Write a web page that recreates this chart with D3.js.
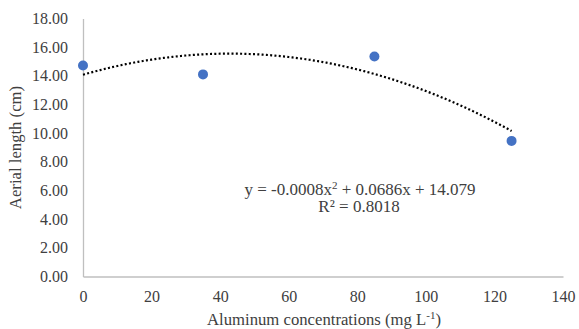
<!DOCTYPE html>
<html>
<head>
<meta charset="utf-8">
<script src="https://cdn.jsdelivr.net/npm/d3@7"></script>
<style>
  html, body { margin: 0; padding: 0; background: #fff; }
  svg { display: block; }
</style>
</head>
<body>
<svg id="chart" width="579" height="329"></svg>
<script>
// Aluminum concentration (mg/L) vs. aerial length (cm)
const concentrations = [0, 35, 85, 125];
const aerialLength = [14.72, 14.10, 15.35, 9.46];

// Quadratic trendline coefficients (y = a x^2 + b x + c)
const trendA = -0.0008;
const trendB = 0.0686;
const trendC = 14.079;
const rSquared = "0.8018";

const xTicks = [0, 20, 40, 60, 80, 100, 120, 140];
const yTicks = [0, 2, 4, 6, 8, 10, 12, 14, 16, 18];

const FONT = "Liberation Serif";
const INK = "#404040";

const svg = d3.select("#chart");

const x = d3.scaleLinear().domain([0, 140]).range([83, 563]);
const y = d3.scaleLinear().domain([0, 18]).range([276.5, 18.5]);

// y axis
const yAxis = svg.append("g")
  .attr("transform", `translate(${x(0)},0)`)
  .call(d3.axisLeft(y).tickValues(yTicks).tickSize(0).tickPadding(15).tickFormat(d3.format(".2f")));
yAxis.attr("font-family", FONT).attr("font-size", 16);
yAxis.select(".domain").attr("stroke", "#bfbfbf").attr("stroke-width", 1.3);
yAxis.selectAll("text").attr("fill", INK);

// x axis
const xAxis = svg.append("g")
  .attr("transform", `translate(0,${y(0)})`)
  .call(d3.axisBottom(x).tickValues(xTicks).tickSize(0).tickPadding(14).tickFormat(d3.format("d")));
xAxis.attr("font-family", FONT).attr("font-size", 16);
xAxis.select(".domain").attr("stroke", "#bfbfbf").attr("stroke-width", 1.3);
xAxis.selectAll("text").attr("fill", INK);

// trendline over the data range
const xs = d3.range(0, 125.01, 0.5);
const line = d3.line().x(d => x(d)).y(d => y(trendA * d * d + trendB * d + trendC));
svg.append("path")
  .datum(xs)
  .attr("d", line)
  .attr("fill", "none")
  .attr("stroke", "#000")
  .attr("stroke-width", 2.2)
  .attr("stroke-dasharray", "2 2.3");

// observed points
svg.selectAll("circle.pt")
  .data(concentrations)
  .join("circle")
  .attr("class", "pt")
  .attr("cx", (d) => x(d))
  .attr("cy", (d, i) => y(aerialLength[i]))
  .attr("r", 5)
  .attr("fill", "#4472c4");

// equation label
const eq = svg.append("text")
  .attr("x", 360).attr("y", 195)
  .attr("text-anchor", "middle")
  .attr("font-family", FONT).attr("fill", INK)
  .attr("font-size", 17);
eq.append("tspan").text("y = -0.0008x");
eq.append("tspan").text("2").attr("dy", -6).attr("font-size", 11);
eq.append("tspan").text(" + 0.0686x + 14.079").attr("dy", 6);

svg.append("text")
  .attr("x", 359).attr("y", 212)
  .attr("text-anchor", "middle")
  .attr("font-family", FONT).attr("fill", INK)
  .attr("font-size", 17)
  .text("R² = " + rSquared);

// axis titles
svg.append("text")
  .attr("transform", `translate(21,${(y(0) + y(18)) / 2}) rotate(-90)`)
  .attr("text-anchor", "middle")
  .attr("font-family", FONT).attr("fill", INK)
  .attr("font-size", 16.7)
  .text("Aerial length (cm)");

const xt = svg.append("text")
  .attr("x", 324).attr("y", 325)
  .attr("text-anchor", "middle")
  .attr("font-family", FONT).attr("fill", INK)
  .attr("font-size", 16.7);
xt.append("tspan").text("Aluminum concentrations (mg L");
xt.append("tspan").text("-1").attr("dy", -6).attr("font-size", 11);
xt.append("tspan").text(")").attr("dy", 6);
</script>
</body>
</html>
